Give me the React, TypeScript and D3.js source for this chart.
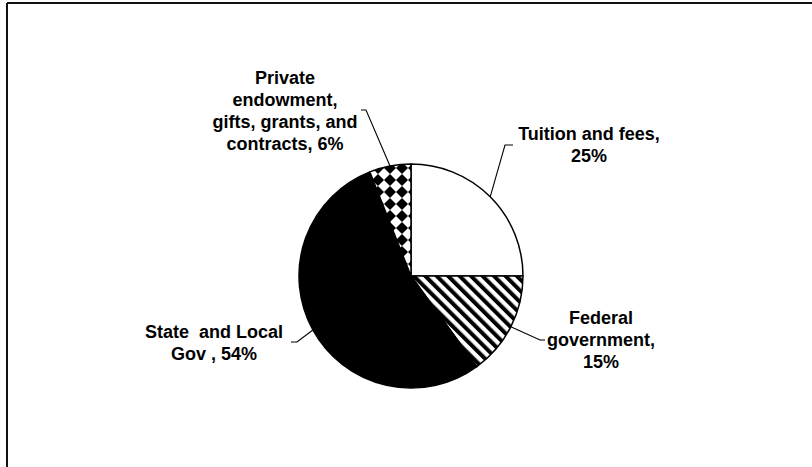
import React from "react";
import * as d3 from "d3";

const categories = [
  "Tuition and fees",
  "Federal government",
  "State and Local Gov",
  "Private endowment, gifts, grants, and contracts",
];
const values = [25, 15, 54, 6];
const labelLines = [
  ["Tuition and fees,", `${values[0]}%`],
  ["Federal", "government,", `${values[1]}%`],
  ["State  and Local", `Gov , ${values[2]}%`],
  ["Private", "endowment,", "gifts, grants, and", `contracts, ${values[3]}%`],
];
const fills = ["#fff", "url(#stripes)", "#000", "url(#diamonds)"];

// layout (offsets relative to pie centre)
const W = 812;
const H = 467;
const CX = 411;
const CY = 276;
const R = 112;
const LINE = 22;
const labelLayout = [
  { elbow: [94, -131], tick: 8, tx: 178, ty: -136 },
  { elbow: [129, 64], tick: 5, tx: 190, ty: 48 },
  { elbow: [-114, 66], tick: -6, tx: -197, ty: 62 },
  { elbow: [-45, -166], tick: -5, tx: -126, ty: -192 },
];

export default function App() {
  const pie = d3
    .pie<number>()
    .sort(null)
    .value((d) => d)
    .startAngle(0)
    .endAngle(2 * Math.PI);
  const arcs = pie(values);
  const arc = d3.arc<d3.PieArcDatum<number>>().innerRadius(0).outerRadius(R);

  return (
    <svg
      width={W}
      height={H}
      style={{ position: "absolute", left: 0, top: 0, background: "#fff" }}
      fontFamily="'Liberation Sans', Arial, sans-serif"
    >
      <defs>
        <pattern
          id="stripes"
          patternUnits="userSpaceOnUse"
          width={8.1}
          height={8.1}
          patternTransform="rotate(-45)"
        >
          <rect x={0} y={0} width={8.1} height={8.1} fill="#fff" />
          <rect x={0} y={0} width={4} height={8.1} fill="#000" />
        </pattern>
        <pattern
          id="diamonds"
          patternUnits="userSpaceOnUse"
          width={12}
          height={12}
          x={CX - 6}
          y={CY - 6}
        >
          <rect x={0} y={0} width={12} height={12} fill="#fff" />
          <polygon points="6,0 12,6 6,12 0,6" fill="#000" />
        </pattern>
      </defs>
      <rect width={W} height={H} fill="#fff" />
      <line x1={7} y1={3} x2={W} y2={3} stroke="#111" strokeWidth={2} />
      <line x1={7} y1={3} x2={7} y2={H} stroke="#111" strokeWidth={2} />

      <g transform={`translate(${CX},${CY})`}>
        {arcs.map((a, i) => (
          <path
            key={categories[i]}
            d={arc(a) || ""}
            fill={fills[i]}
            stroke="#000"
            strokeWidth={1.5}
            strokeLinejoin="round"
          />
        ))}
        {arcs.map((a, i) => {
          const mid = (a.startAngle + a.endAngle) / 2;
          const sx = Math.sin(mid) * R;
          const sy = -Math.cos(mid) * R;
          const L = labelLayout[i];
          const [ex, ey] = L.elbow;
          return (
            <g key={"l" + i}>
              <polyline
                points={`${sx},${sy} ${ex},${ey} ${ex + L.tick},${ey}`}
                fill="none"
                stroke="#000"
                strokeWidth={1.1}
              />
              <text
                x={L.tx}
                y={L.ty}
                textAnchor="middle"
                fontSize={18}
                fontWeight="bold"
                fill="#000"
                style={{ whiteSpace: "pre" }}
              >
                {labelLines[i].map((t, j) => (
                  <tspan key={j} x={L.tx} y={L.ty + j * LINE}>
                    {t}
                  </tspan>
                ))}
              </text>
            </g>
          );
        })}
      </g>
    </svg>
  );
}
